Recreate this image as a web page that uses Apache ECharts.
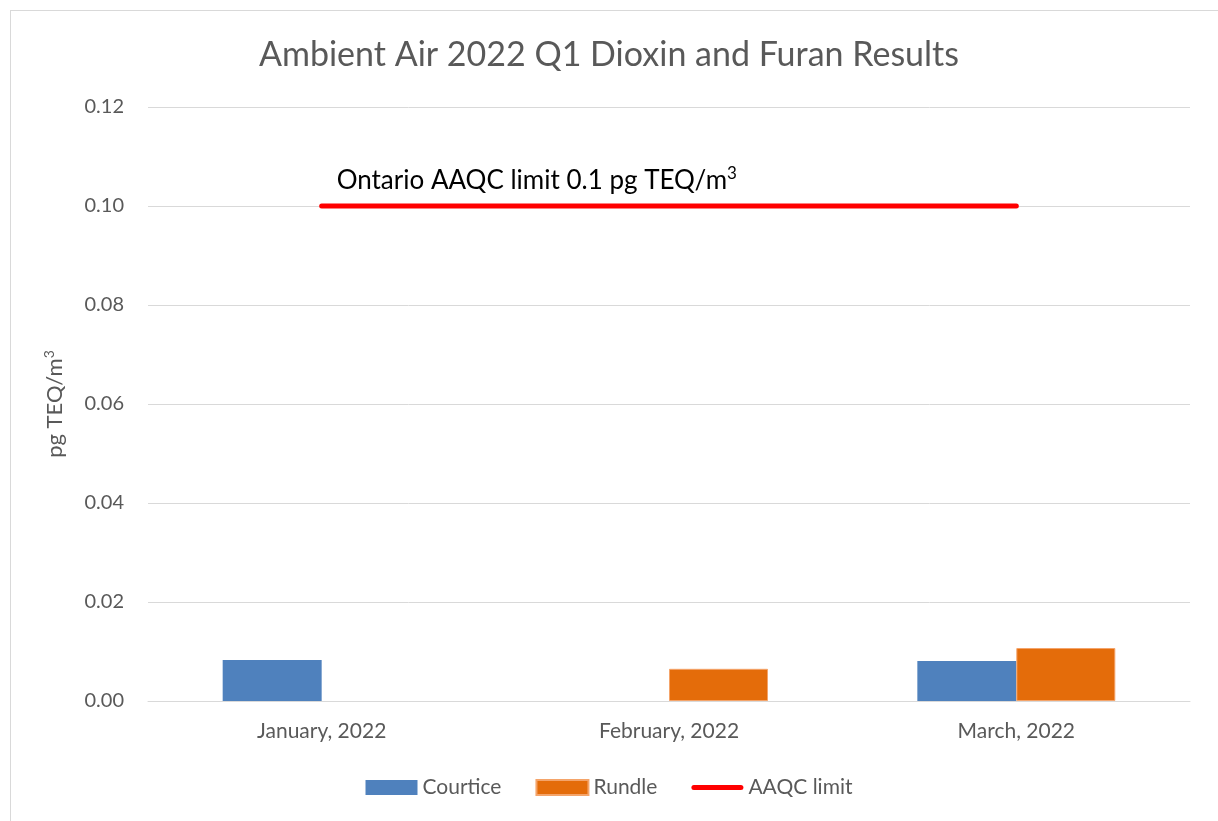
<!DOCTYPE html>
<html>
<head>
<meta charset="utf-8">
<script src="https://cdn.jsdelivr.net/npm/echarts@6/dist/echarts.min.js"></script>
<style>
  html, body { margin: 0; padding: 0; background: #fff; }
  #frame { position: absolute; left: 10px; top: 10px; width: 1215px; height: 820px; border: 1px solid #d9d9d9; }
  #chart { position: absolute; left: 0; top: 0; width: 1218px; height: 821px; }
</style>
</head>
<body>
<div id="frame"></div>
<div id="chart"></div>
<script>
  const months = ['January, 2022', 'February, 2022', 'March, 2022'];
  const courtice = [0.0083, null, 0.0081];
  const rundle = [null, 0.0065, 0.0107];
  const aaqcLimit = [0.1, 0.1, 0.1];
  const yTicks = [0, 0.02, 0.04, 0.06, 0.08, 0.10, 0.12];

  const FONT = 'Lato, "Open Sans", sans-serif';
  const chart = echarts.init(document.getElementById('chart'));
  chart.setOption({
    animation: false,
    title: {
      text: 'Ambient Air 2022 Q1 Dioxin and Furan Results',
      left: 'center', top: 33,
      textStyle: { color: '#595959', fontSize: 34, fontWeight: 'normal', fontFamily: FONT },
    },
    legend: {
      bottom: 18, left: 'center', itemGap: 34,
      textStyle: { color: '#595959', fontSize: 21, fontFamily: FONT },
      data: [
        { name: 'Courtice', icon: 'rect', itemStyle: { color: '#4f81bd' } },
        { name: 'Rundle', icon: 'rect', itemStyle: { color: '#e46c0a', borderColor: '#f4a46a', borderWidth: 2 } },
        { name: 'AAQC limit', icon: 'path://M2.5,0 L49.5,0 A2.5,2.5 0 0 1 49.5,5 L2.5,5 A2.5,2.5 0 0 1 2.5,0 Z',
          itemStyle: { color: '#ff0000' } },
      ],
      itemWidth: 52, itemHeight: 15,
    },
    grid: { left: 148, right: 28, top: 107, bottom: 120 },
    xAxis: {
      type: 'category', data: months,
      axisLine: { lineStyle: { color: '#d9d9d9', width: 1 } },
      axisTick: { show: false },
      axisLabel: { color: '#595959', fontSize: 21, fontFamily: FONT, margin: 20 },
    },
    yAxis: {
      type: 'value', min: 0, max: 0.12, interval: 0.02,
      name: '{a|pg TEQ/m}{s|3}', nameLocation: 'middle', nameGap: 80, nameRotate: 90,
      nameTextStyle: { color: '#595959', fontSize: 21, fontFamily: FONT,
        rich: { a: { fontSize: 22, color: '#595959', fontFamily: FONT },
                s: { fontSize: 14, color: '#595959', fontFamily: FONT, padding: [0, 0, 12, 0] } } },
      axisLabel: { color: '#595959', fontSize: 20, fontFamily: FONT, margin: 24,
        formatter: v => yTicks.includes(+v.toFixed(2)) ? v.toFixed(2) : '' },
      splitLine: { lineStyle: { color: '#d9d9d9', width: 1 } },
    },
    series: [
      { name: 'Courtice', type: 'bar', data: courtice, barGap: '0%', barCategoryGap: '43%',
        itemStyle: { color: '#4f81bd' } },
      { name: 'Rundle', type: 'bar', data: rundle, barGap: '0%', barCategoryGap: '43%',
        itemStyle: { color: '#e46c0a', borderColor: '#f4a46a', borderWidth: 1 } },
      { name: 'AAQC limit', type: 'line', data: aaqcLimit, symbol: 'none',
        lineStyle: { color: '#ff0000', width: 5, cap: 'round' }, itemStyle: { color: '#ff0000' },
        markPoint: {
          symbol: 'circle', symbolSize: 0,
          data: [{ coord: [0, 0.1], value: 'Ontario AAQC limit 0.1 pg TEQ/m' }],
          label: { show: true, position: 'right', offset: [10, -25],
            formatter: p => '{a|' + p.value + '}{s|3}',
            rich: { a: { color: '#000', fontSize: 26, fontFamily: FONT },
                    s: { color: '#000', fontSize: 17, fontFamily: FONT, padding: [0, 0, 14, 0] } } },
        },
      },
    ],
  });
  window.addEventListener('resize', () => chart.resize());
</script>
</body>
</html>
